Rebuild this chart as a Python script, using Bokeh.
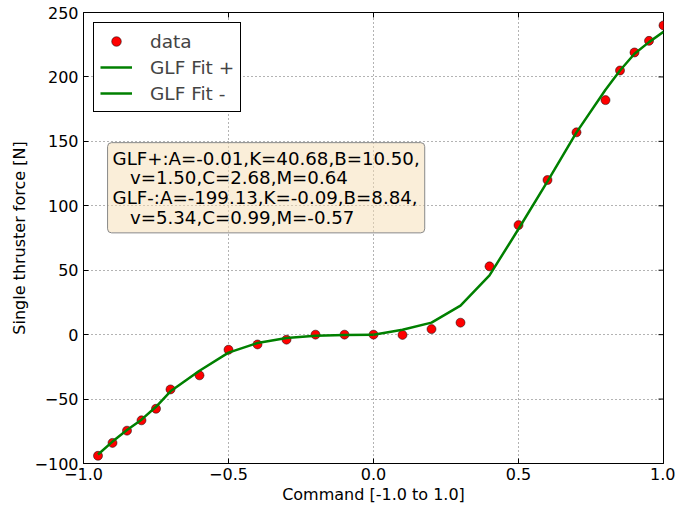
from bokeh.plotting import figure
from bokeh.models import FixedTicker, Legend, LegendItem, Label
from bokeh.embed import file_html
from bokeh.resources import INLINE

# ---- data ----
cmd = [-0.95, -0.9, -0.85, -0.8, -0.75, -0.7, -0.6, -0.5, -0.4, -0.3, -0.2, -0.1, 0.0,
       0.1, 0.2, 0.3, 0.4, 0.5, 0.6, 0.7, 0.8, 0.85, 0.9, 0.95, 1.0]
force = [-94, -84, -74.5, -66.5, -57.5, -42.5, -31.6, -11.7, -7.6, -3.9, 0, 0, 0,
         -0.2, 4.3, 9.3, 53, 85, 120, 157, 182, 205, 219, 228, 240]

fit_neg_x = [-0.95, -0.9, -0.85, -0.8, -0.75, -0.7, -0.6, -0.5, -0.4, -0.3, -0.2, -0.1, 0.0]
fit_neg_y = [-93, -83, -74, -66, -56, -44, -28, -14, -6.5, -2.6, -0.9, -0.3, 0]
fit_pos_x = [0.0, 0.1, 0.2, 0.3, 0.4, 0.5, 0.6, 0.7, 0.8, 0.85, 0.9, 0.95, 1.0]
fit_pos_y = [0, 3.8, 9.3, 22.5, 46, 82, 119, 157, 190, 205, 218, 227, 235]

x_ticks = [-1.0, -0.5, 0.0, 0.5, 1.0]
x_tick_labels = ["\u22121.0", "\u22120.5", "0.0", "0.5", "1.0"]
y_ticks = [-100, -50, 0, 50, 100, 150, 200, 250]
y_tick_labels = ["\u2212100", "\u221250", "0", "50", "100", "150", "200", "250"]

legend_labels = ["data", "GLF Fit +", "GLF Fit -"]
x_label = "Command [-1.0 to 1.0]"
y_label = "Single thruster force [N]"
fit_text = ("GLF+:A=-0.01,K=40.68,B=10.50,\n"
            "\u00a0\u00a0\u00a0v=1.50,C=2.68,M=0.64\n"
            "GLF-:A=-199.13,K=-0.09,B=8.84,\n"
            "\u00a0\u00a0\u00a0v=5.34,C=0.99,M=-0.57")

FONT = "DejaVu Sans"
GREEN = "#008000"
X0, X1 = -1.0, 1.0
Y0, Y1 = -100.0, 250.0

W, H = 675, 508
BL, BR, BT, BB = 83, 12, 12, 45
p = figure(width=W, height=H, x_range=(X0, X1), y_range=(Y0, Y1),
           output_backend="svg", toolbar_location=None,
           min_border_left=BL, min_border_right=BR, min_border_top=BT, min_border_bottom=BB,
           x_axis_label=x_label, y_axis_label=y_label)
p.outline_line_color = "black"
p.outline_line_width = 1
p.outline_line_alpha = 1
p.background_fill_color = "white"
p.border_fill_color = "white"

xa = p.xaxis[0]
ya = p.yaxis[0]
xa.ticker = FixedTicker(ticks=x_ticks)
ya.ticker = FixedTicker(ticks=y_ticks)
xa.major_label_overrides = {t: l for t, l in zip(x_ticks, x_tick_labels)}
ya.major_label_overrides = {t: l for t, l in zip(y_ticks, y_tick_labels)}
for ax in (xa, ya):
    ax.major_tick_in = 5
    ax.major_tick_out = 0
    ax.minor_tick_in = 0
    ax.minor_tick_out = 0
    ax.axis_line_color = "black"
    ax.major_tick_line_color = "black"
    ax.major_label_text_font = FONT
    ax.major_label_text_font_size = "16px"
    ax.major_label_text_color = "black"
    ax.axis_label_text_font = FONT
    ax.axis_label_text_font_size = "16px"
    ax.axis_label_text_font_style = "normal"
    ax.axis_label_text_color = "black"
xa.major_label_standoff = 4
xa.axis_label_standoff = 2
ya.major_label_standoff = 5
ya.axis_label_standoff = 3

p.xgrid.ticker = FixedTicker(ticks=x_ticks)
p.ygrid.ticker = FixedTicker(ticks=y_ticks)
for g in (p.xgrid, p.ygrid):
    g.grid_line_color = "black"
    g.grid_line_alpha = 0.6
    g.grid_line_dash = "1 3"
    g.grid_line_width = 1

# mirrored inward ticks on the top and right frame edges (5 px long)
fw = W - BL - BR
fh = H - BT - BB
tlx = 5 * (X1 - X0) / fw
tly = 5 * (Y1 - Y0) / fh
p.segment(x0=x_ticks, y0=[Y1] * len(x_ticks), x1=x_ticks, y1=[Y1 - tly] * len(x_ticks),
          line_color="black", line_width=1)
p.segment(x0=[X1] * len(y_ticks), y0=y_ticks, x1=[X1 - tlx] * len(y_ticks), y1=y_ticks,
          line_color="black", line_width=1)

dots = p.scatter(cmd, force, size=9, fill_color="red", line_color="black", line_width=0.5)
pos = p.line(fit_pos_x, fit_pos_y, line_color=GREEN, line_width=2.5)
neg = p.line(fit_neg_x, fit_neg_y, line_color=GREEN, line_width=2.5)

legend = Legend(items=[LegendItem(label=legend_labels[0], renderers=[dots]),
                       LegendItem(label=legend_labels[1], renderers=[pos]),
                       LegendItem(label=legend_labels[2], renderers=[neg])],
                location="top_left", margin=10, padding=6, spacing=2,
                glyph_width=32, glyph_height=24, label_height=24, label_standoff=18,
                label_text_font=FONT, label_text_font_size="18.5px",
                border_line_color="black", border_line_width=1, border_line_alpha=1,
                background_fill_color="white", background_fill_alpha=1)
p.add_layout(legend)

lab = Label(x=-0.917, y=149.0, text=fit_text, text_font=FONT, text_font_size="18.2px",
            text_align="left", text_baseline="top", text_color="black",
            text_line_height=0.94,
            background_fill_color="wheat", background_fill_alpha=0.5,
            border_line_color="#888888", border_line_width=1, border_line_alpha=1,
            padding=5, border_radius=4)
p.add_layout(lab)

open("out.html", "w").write(file_html(p, INLINE))
